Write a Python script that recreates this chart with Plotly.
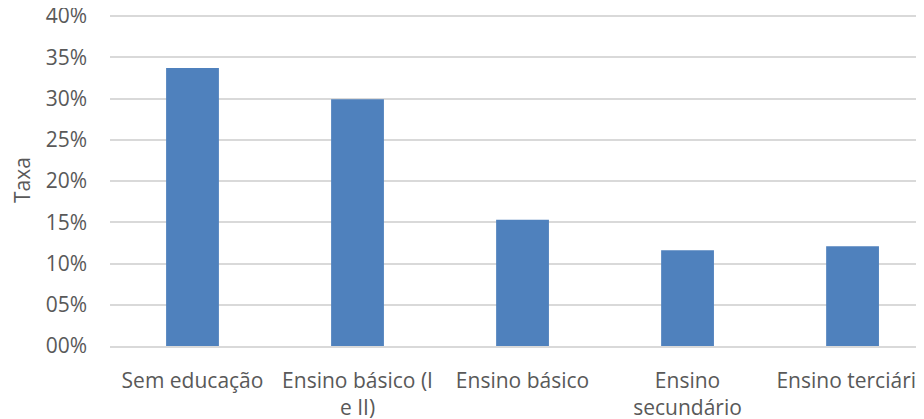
import plotly.graph_objects as go

categories = ["Sem educação", "Ensino básico (I<br>e II)", "Ensino básico", "Ensino<br>secundário", "Ensino terciário"]
rates = [33.7, 29.9, 15.3, 11.6, 12.1]
y_tick_vals = [0, 5, 10, 15, 20, 25, 30, 35, 40]
y_tick_text = ["00%", "05%", "10%", "15%", "20%", "25%", "30%", "35%", "40%"]

FONT = "Open Sans, Segoe UI, sans-serif"
TXT = "#595959"
FS = 21

fig = go.Figure(go.Bar(
    x=list(range(len(categories))),
    y=rates,
    width=0.32,
    marker=dict(color="#4F81BD", line=dict(width=0)),
))

fig.update_layout(
    width=916, height=411,
    margin=dict(l=102, r=0, t=6, b=73),
    paper_bgcolor="white", plot_bgcolor="white",
    showlegend=False,
    font=dict(family=FONT, size=FS, color=TXT),
    xaxis=dict(
        tickmode="array", tickvals=list(range(len(categories))), ticktext=categories,
        range=[-0.5, 4.433], showgrid=False, zeroline=False,
        showline=True, linecolor="#D9D9D9", linewidth=1.5,
        ticks="", ticklabelstandoff=15, automargin=False,
        ticklabeloverflow="allow",
        tickfont=dict(family=FONT, size=FS, color=TXT),
    ),
    yaxis=dict(
        range=[0, 40.25], tickmode="array", tickvals=y_tick_vals, ticktext=y_tick_text,
        showgrid=True, gridcolor="#D9D9D9", gridwidth=1.5, zeroline=False,
        showline=False, ticks="", ticklabelstandoff=22, automargin=False,
        ticklabeloverflow="allow",
        tickfont=dict(family=FONT, size=FS, color=TXT),
        title=dict(text="Taxa", font=dict(family=FONT, size=FS, color=TXT), standoff=12),
    ),
)

fig.write_html("out.html")
